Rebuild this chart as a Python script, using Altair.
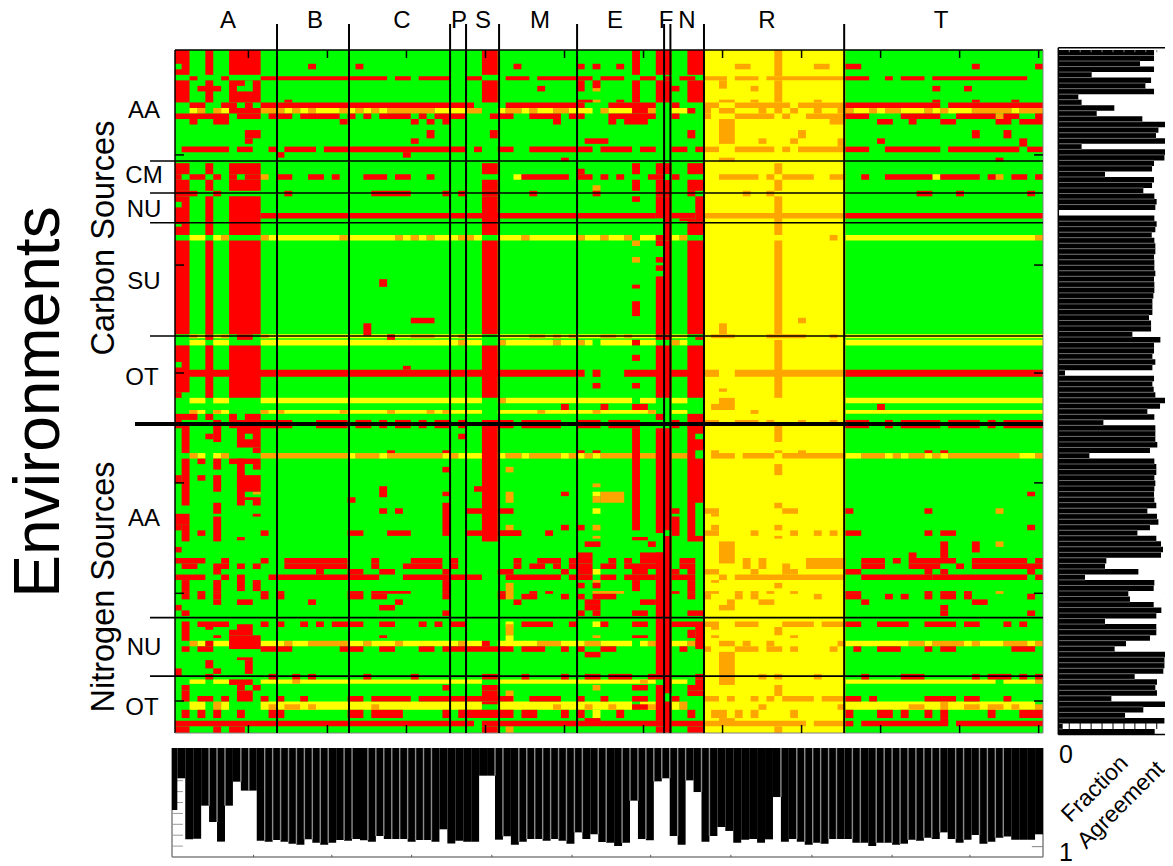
import altair as alt
import pandas as pd

# ---- heat map values: (first row, end row, columns)
YELLOW_BANDS = [
    (0.5, 125, "67-84"),
    (11, 12, "2 6 14 16 18-20 22 24 26 33-36 41 44 46-47 50-52 55-57 63-64 86-87 89 92-94 96 98-100 106"),
    (23, 24, "43 96"),
    (34, 35, "2-3 5 12-20 22-27 29 31 33-35 38 41-43 45-50 52-53 55-56 59-60 63 85-108"),
    (52, 52.7, "2-3 5-6 11-38 41-60 63-64 85-109"),
    (53, 54, "2-3 5-6 11-35 37-38 42-47 49-50 52 54-57 59-60 64 85-109"),
    (63.5, 64.5, "2-3 5-6 11-38 42-57 59-60 63-64 85-109"),
    (65.7, 66.4, "2-3 5-6 11-38 41-60 63-64 85-109"),
    (73.5, 74.5, "3 5 22 26 34 36-38 41 44 49 51 53 85-86 90 92 95 97 107-108"),
    (80.5, 81.3, "53"),
    (83.5, 84.5, "53"),
    (94.5, 95.5, "53"),
    (104, 105, "42 53"),
    (106.5, 109, "42"),
    (107.5, 108.5, "3 5-6 11-13 15-16 22-23 25-27 29-35 37-38 41-45 49-51 54-57 59 63-64 85-92 95 100 102-104 108"),
    (114.5, 115.3, "2-3 5-6 11-38 41-60 63-64 85-103 105-108"),
    (117.5, 118.5, "42"),
    (118.5, 120, "2-3 6 11-38 41-57 59-60 63 85-108"),
    (120, 121.5, "53"),
]
ORANGE_BANDS = [
    (0.5, 5.25, "76"), (6, 10, "76"), (3, 4, "71-72 81-82"),
    (5.25, 6, "67-69 71-73 75-84"), (6, 7.5, "69"), (7, 8, "53 73"),
    (9.5, 10, "53 69-70 73 81"), (10, 11, "67-68 71-77 79-84"),
    (11, 12, "3 5 11-13 15 17 21 23 25 27-32 37-38 42-43 45 48-49 54 59-60 67 69-70 74 76 78 81 84-85 88 90-91 95 97 101-105 107-109"),
    (12, 13, "67 71-75 77 80-84 104"), (13, 14, "83-84"), (13, 17.5, "69-70"),
    (15, 16.5, "79"), (16.5, 17.5, "74 78"), (16.5, 18, "84"),
    (18, 19, "67-68 71-75 77 79-84"), (20, 20.7, "69-70"),
    (21, 23, "76"), (24, 26, "76"), (23, 24, "11 69-73 75 77-80 83-84 104"),
    (25, 26, "53"), (26, 27, "72 75"), (27, 34, "76"), (30, 31, "67-84"),
    (34, 35, "6 11 21 28 30 32 36-37 44 51 54 57 64 83 109"),
    (35, 36, "58"), (38, 39, "58"), (35, 52, "76"), (49, 50, "79"), (50, 52, "69"),
    (52, 52.7, "2 6 11 30-32 36 45-46 48 50 54-55 57 68-70 75-79 83"),
    (53, 54, "36 41 48 51 63"), (53, 63.5, "76"), (58.4, 59.7, "67-68 71-84"),
    (61.8, 62.4, "69"), (63.5, 65, "69-70"), (63.5, 64.5, "41"), (64.6, 65.7, "68-70"),
    (65.7, 66.4, "2 5 11 13 21 27 32 34 46 53 60 73"),
    (67.5, 68.5, "67-68 71-73 75 79 83"),
    (68.5, 71.5, "76"), (73, 73.5, "68 76 79"),
    (73.5, 74.5, "2 6 11-21 23-25 27-33 35 42-43 45-48 50 52 54-57 59-60 63-64 68-70 72-75 77-84 87-89 91 93-94 96 98-106 109"),
    (75.5, 77.5, "76"), (76, 77, "42"), (79, 79.7, "53"), (80.5, 82.5, "42 54-56"),
    (81.3, 82.5, "53"), (80.5, 81, "10"), (82.5, 83.5, "76"),
    (83.5, 84.5, "67-68 77-78 104"), (84.5, 85, "68"),
    (86.5, 87.5, "42 53 68 76"), (87.5, 88.5, "67-68 73 78 81 83"), (88.5, 89, "53 76"),
    (89.5, 93.5, "69-70"), (89.5, 90.5, "104"), (92.5, 94.5, "72 74 80-84"),
    (93.5, 95.5, "77"), (94.5, 95.5, "67-68 73 78"), (95.5, 96.5, "69 71-84"),
    (96.5, 97, "53 68"), (97, 98, "76"), (97, 100, "42"),
    (98.5, 99, "53-56 67-68 71 73 75 78 104"), (99, 100, "67 71 73 81"),
    (100, 101, "70 74-75"), (101, 102, "69-70"),
    (104, 105, "67-68 71-73 77-80 82-84"), (104.5, 106.5, "42"), (105, 106.5, "76"),
    (104.5, 105.5, "68"), (106.5, 107, "53 68 78"),
    (107.5, 108.5, "2 14 17-21 24 28 36 46-48 52-53 60 65 69-70 72 75 84 93-94 96-99 101 105-107 109"),
    (108.5, 109.5, "67 71-73 75-76 78 83"), (109.5, 115.5, "69-70"), (113.5, 114.5, "74 76 81"),
    (114.5, 115.3, "15 59 109"), (115.5, 117.5, "76"), (115.5, 116.5, "53"), (116.5, 117.5, "42"),
    (117.5, 118.5, "67-68 70 73 75 77-80 82-84"), (118.5, 120, "5 64 97"),
    (119, 120, "12 14-15 17 25 48 52 55 60 74 84 93-94 100-101 103-104 106 109"),
    (120, 121.5, "68-69 71 73 78"), (121.5, 122.5, "69-70"),
    (122, 123, "67-79 81-84"), (123, 125, "42 76"),
]
RED_BANDS = [
    (0.5, 5, "0-1 4 7-10 39-40 58 61-62 65-66"),
    (6, 10, "0-1 4 7-10 39-40 58 61-62 65-66"),
    (3, 4, "17 23 43 51 53 56 85-86 101 109"),
    (5.25, 6, "2 6 11-26 28-29 31-34 37-38 42-44 46-50 51-52 54-56 59-60 62 64-65 85-87 90 92-94 96-107"),
    (6, 8, "51"), (6, 7.4, "53"), (7, 8, "3-5 46 63 96 100"),
    (9.5, 10, "14 51-52 56 96 101 106"),
    (10, 11, "2-3 6-7 9 11-37 42-51 55-60 63 85-96 98-109"),
    (11, 12, "7-10 58-59 65"),
    (12, 13, "0-6 8-10 12-14 16-20 22 24 26-29 31 33-36 40-42 45-48 50-51 55-60 63 85-87 92-96 99-103 105-106 109"),
    (13, 14, "2 5-6 21 30 32 34 48 55 57-59 89-90 93 97-98 104-105 107-109"),
    (15, 16.5, "9-10 32 40 65 101 105"), (16.5, 17.5, "9 30 52-54 89"), (16.5, 18, "107"),
    (18, 19, "1-6 8-9 12 14-17 19-36 38 41-42 45-52 54-57 59-60 63-64 66 85-87 90-96 98-106 108-109"),
    (19, 20, "13 29"), (20, 20.7, "49 104"),
    (21, 23, "0-1 4 7-10 39-40 58 61-62 65-66"), (22, 23, "51"),
    (23, 24, "0 2-3 5 7 9-10 13-14 17-18 20 24-26 28-29 32 44-49 51-52 54 56 60-61 63 87 90-95 97-101 103 106-107 109"),
    (24, 26, "0-1 4 7-10 39-40 58 61-62 65-66"),
    (26, 27, "0-2 5 14 25-29 34 36 39-40 45 53 61-62 65 94-95 99 108"),
    (27, 34, "0-1 4 7-10 39-40 62"), (27, 28, "58"), (27, 31, "61"), (27, 31.5, "66"),
    (30, 31, "11-60 63-65 85-109"), (31, 31.5, "64-65"), (31.5, 34, "65-66"),
    (34, 35, "61-62"), (35, 36, "61"),
    (35, 52, "0-1 4 7-10 39-40 62 65-66"), (38, 39, "61"), (39.5, 40.5, "61"), (41.5, 52, "61"),
    (43, 43.7, "58"), (46, 48.7, "58"), (42, 43.4, "26"), (49, 50, "30-32"), (50, 52.2, "24"),
    (52, 53, "4 8-9 27 61-62"), (52.5, 53, "66"), (53, 54, "58"),
    (54, 63.5, "4 7-10 39-40 61-62 65-66"), (54, 62.5, "0-1"), (62.5, 63.5, "0"),
    (55.7, 56.8, "58"), (57.7, 58.4, "29"),
    (58.4, 59.7, "0-51 53 57-65 85-109"), (60.8, 61.8, "53 58"),
    (64.6, 65.7, "49 54 58-59 89"),
    (66.4, 67.5, "0-2 4 7 9-10 61 65-66"),
    (67.5, 69, "0 5 7-14 18-21 23-24 26 28-29 31 33-34 36 39-42 44-48 51-53 55-58 63 65-66 85-87 90 92-96 98-101 103 105-109"),
    (68.5, 73.5, "1"), (70, 71, "4 36"), (68.5, 71.5, "5"), (68.5, 72.5, "8-10"), (72.5, 73.5, "10"),
    (73, 73.5, "27 34 51 53 95 97"),
    (68.5, 89.5, "39-40 65-66"), (69, 87.5, "58 62"), (69, 88, "61"),
    (74.5, 83, "1 8"), (74.5, 75.5, "3 7-10"), (74.5, 76.5, "5"), (75.5, 76.5, "10"),
    (76, 77, "34"), (77.5, 79, "0"), (77.5, 78.5, "3"), (77.5, 80.5, "5 8-10"),
    (79.5, 81.5, "26"), (79.5, 80.5, "38"), (80.5, 81.3, "34 49 108"), (81.5, 82.5, "22"),
    (81.5, 82, "9-10"), (82, 83, "10"), (82.5, 84.5, "5"), (82.5, 88.5, "34"),
    (83.5, 84.5, "26 28 37-38 41-42 63 85 95"), (84.5, 85, "10"), (85, 89.5, "5"),
    (85, 88.5, "63"), (84.5, 86.5, "0-1"), (86.5, 87.5, "0 49 51 108"), (86.5, 89.5, "1"),
    (87.5, 88.5, "3 11 22-23 27-29 37-38 41-43 47 85-86 95 97-98"),
    (88.7, 89.3, "8 58-59"),
    (88.5, 117, "62"), (89.5, 90.5, "52-53 60"), (89.5, 91.5, "101"), (89.5, 92.5, "97"), (90.5, 91.5, "0"),
    (91.5, 103.5, "61"), (91.5, 92.5, "51-52 59-61 93"),
    (92.5, 93.5, "0-3 6 11 14-21 25 30-33 35 43 46-48 50-52 55 57 59-61 64-65 87-89 91 93-98 101-107 109"),
    (93.5, 94.5, "1-2 5-6 8 10 14-21 25 29-33 35 43 45-46 48 50-52 54-55 57-61 64-65 87-89 93-96 99 101-109"),
    (94.5, 95.5, "5 18 22-23 26-27 34 41-42 49 51-52 58-59 63 65 85-86 95 97 108"),
    (95.5, 96.5, "0-3 6 8 12-25 29-38 42-48 50-52 54-55 57-60 63-65 87-95 96-107 109"),
    (96.5, 98.5, "1 5 8 10 34 58 65"), (97, 98, "51 53"),
    (98.5, 99, "1 3 5 11 13 22-23 25-29 34 41 45 47 63 65 85-86 95 97-98 100"),
    (99, 100, "1 3 5 11 13 22-23 25-26 34 41 44-45 49 51 53-55 65 85-86 90 92 95 97-98 100 108"),
    (100, 101, "5 8-9 17 28 43 52-53 59-60 87 101-102"),
    (101, 102, "0 26-27 52-53 97"),
    (102, 103, "1 34 51 53 58-59 65-66 97 108"),
    (103.5, 114.5, "61"),
    (104, 105, "3-6 11 13 16 18 20-23 26-27 31 33 35-36 44-47 50 54 58-59 63-66 85-86 89-92 95-98 100-101 105 107"),
    (104, 107.5, "1"), (104.5, 105.5, "4"), (104.5, 106.5, "8-9"), (105.5, 106.5, "7"),
    (106.5, 109, "7-10"), (106.5, 107, "5 26 58-59"), (104.5, 109, "66"), (105.5, 107, "65"),
    (107.5, 108.5, "4 39"),
    (108.5, 109.5, "1 3-4 11-14 21-23 26-27 31-32 34-42 44-46 49 51 54-55 64 86 89-91 95 97-98 106-108"),
    (109.5, 110.5, "52-53"), (110.5, 111, "8-9"), (111, 113.5, "9"), (111, 112.5, "4"),
    (112.5, 113.5, "5"), (112.5, 114, "0"),
    (113.5, 114.5, "4 12 15 17 24 30 39-40 44 49 52-53 55-57 60 66 87 92-94 101 103-105 107 109"),
    (114.5, 115.5, "7-9 66"),
    (115.5, 116.5, "1 8 10 34 39-40 58-59 65-66"), (116.5, 117.5, "1 8-9 39-40 65-66"),
    (115.5, 122, "61"),
    (117.5, 118.5, "1 3-4 6 8-9 11 13 16 22-23 25-29 31-36 37-42 45-48 51 54 58-59 63 85-86 88 95-98 100-101 105"),
    (118.5, 125, "62"), (118.5, 119, "39-40"), (119, 120, "58-59"),
    (120, 121.5, "1 3 5 8 12-13 22-23 25-28 34 36-42 44-45 49 51 56 65 85 89-90 92 95 97 103 107-109"),
    (121.5, 122.5, "52-53 97"),
    (122, 123, "0-37 39-66 85 87-97 99-109"),
    (123, 125, "0-1 5 7-8 39-40 61 65-66"),
]
GREEN_HOLES = [
    (3, 4, "0"), (6, 8, "9"), (7, 8, "8"), (23, 24, "62"), (28, 29, "0"), (32, 32.5, "0"),
    (57, 58, "0"), (70, 71, "9 66"), (73, 74.5, "66"), (75.5, 77, "9"), (82.5, 88.5, "66"),
]

# fractions along the two side histograms
RIGHT_FRACTION = [
    .875, .875, .747, .875, .305, .848, .796, .875, .183, .213, .512, .351, .768, .991, .915, .893,
    .991, .213, .991, .970, .875, .857, .427, .875, .857, .777, .878, .899, .887, 0, .878, .899,
    .887, .854, .878, .887, .887, .875, .878, .878, .887, .875, .878, .878, .869, .860, .860, .860,
    .829, .848, .848, .677, .933, .875, .875, .860, .887, .860, .061, .875, .860, .872, .887, .979,
    .930, .814, .878, .412, .887, .887, .887, .905, .838, .284, .878, .896, .896, .878, .887, .878,
    .875, .878, .896, .814, .902, .915, .838, .723, .896, .939, .957, .939, .439, .427, .732, .244,
    .878, .872, .640, .655, .872, .942, .896, .427, .896, .896, .838, .619, .515, .979, .970, .970,
    .960, .698, .902, .887, .902, .485, 1.0, .777, .610, .970, .04, .881,
]
BOTTOM_FRACTION = [
    .569, .278, .838, .832, .529, .679, .859, .529, .309, .391, .391, .85, .859, .844, .859, .878,
    .887, .838, .869, .887, .869, .844, .85, .835, .847, .859, .807, .835, .835, .835, .859, .844,
    .844, .859, .746, .875, .85, .859, .859, .254, .254, .841, .81, .887, .859, .835, .835, .85,
    .835, .85, .878, .774, .835, .792, .862,
    .869, .899, .869, .483, .835, .847, .306, .278, .807, .887, .297, .404, .859, .807, .725, .761,
    .869, .841, .835, .869, .838, .45, .859, .835, .859, .887, .869, .878, .835, .835, .835, .869,
    .869, .899, .869, .869, .887, .878, .841, .85, .823, .835, .774, .835, .869, .841, .798, .878,
    .859, .823, .813, .841, .841, .841, .792,
]
BOTTOM_SEPARATORS = [
    5, 6, 7, 9, 10, 12, 13, 14, 15, 16, 17, 18, 19, 20, 22, 23, 25, 26, 27, 28, 29, 30, 31, 32, 33,
    41, 42, 44, 45, 46, 47, 48, 49, 50, 51, 52, 54, 55, 57, 58, 59, 60, 61, 62, 63, 64, 65, 67, 68,
    77, 79, 80, 81, 82, 83, 84, 86, 87, 89, 90, 91, 92, 93, 94, 95, 96, 97, 99, 100, 102, 103, 104, 105,
]

GROUP_EDGES = [13.07, 22.18, 34.97, 36.99, 41.17, 51.04, 62.05, 62.85, 67.1, 84.84]
ROW_LINES = [20.6, 26.4, 31.8, 52.3, 103.3, 113.9]
THICK_LINE = 68.25
COL_TICKS = [9.45, 19.45, 29.45, 39.45, 49.45, 59.45, 69.45, 79.45, 89.45, 99.45, 109.45]
ROW_TICKS = [19.5, 39.45, 59, 78.9, 98.9, 118.4]
BOTTOM_TICKS = [10.6, 20.45, 30.5, 40.6, 50.7, 60.6, 70.7, 80.9, 91, 100.8]
FRACTION_TICKS = [.1, .2, .3, .4, .5, .6, .7, .8, .9]

COLUMN_GROUPS = [("A", 228), ("B", 315), ("C", 402), ("P", 459), ("S", 483), ("M", 540),
                 ("E", 615), ("F", 666), ("N", 687), ("R", 767), ("T", 941)]
ROW_GROUPS = [("AA", 144, 111), ("CM", 144, 176), ("NU", 144, 210), ("SU", 144, 282), ("OT", 142, 378),
              ("AA", 144, 519), ("NU", 144, 648), ("OT", 142, 708)]

FONT = "Liberation Sans"
ORIGIN_X = 8
ORIGIN_Y = 18
Xmin, Xmax, Ymin, Ymax = 0.16, 110, 0.5, 124.2


def xscale(domain, lo, hi, clamp=False):
    return alt.Scale(domain=domain, range=[lo - ORIGIN_X, hi - ORIGIN_X], nice=False, zero=False, clamp=clamp)


def yscale(domain, lo, hi, clamp=False):
    return alt.Scale(domain=domain, range=[lo - ORIGIN_Y, hi - ORIGIN_Y], nice=False, zero=False, clamp=clamp)


heat_x = xscale([Xmin, Xmax], 175, 1043)
heat_y = yscale([Ymin, Ymax], 50, 733)
heat_xc = xscale([Xmin, Xmax], 175, 1043, True)
heat_yc = yscale([Ymin, Ymax], 50, 733, True)
right_x = xscale([0, 1], 1058.3, 1167.7)
right_y = yscale([0, len(RIGHT_FRACTION)], 50, 734.5)
bot_x = xscale([0.33, 110], 172, 1043)
bot_xc = xscale([0.33, 110], 172, 1043, True)
bot_y = yscale([0, 1], 748, 857)


def expand(bands, state):
    out = []
    for r0, r1, cols in bands:
        for tok in cols.split():
            a, _, b = tok.partition("-")
            out.append({"state": state, "r0": r0, "r1": r1, "c0": int(a), "c1": int(b or a) + 1})
    return out


cells = ([{"state": "green", "r0": Ymin, "r1": 125, "c0": 0, "c1": 110}]
         + expand(YELLOW_BANDS, "yellow") + expand(ORANGE_BANDS, "orange")
         + expand(RED_BANDS, "red") + expand(GREEN_HOLES, "green"))
heat = alt.Chart(pd.DataFrame(cells)).mark_rect(strokeWidth=0).encode(
    x=alt.X("c0:Q", scale=heat_xc, axis=None), x2="c1:Q",
    y=alt.Y("r0:Q", scale=heat_yc, axis=None), y2="r1:Q",
    color=alt.Color("state:N", legend=None, scale=alt.Scale(
        domain=["green", "yellow", "orange", "red"],
        range=["#00ff00", "#ffff00", "#ffa500", "#ff0000"])),
)


def rules(rows, xs, ys, color="black", width=1.5):
    df = pd.DataFrame(rows, columns=["x0", "x1", "y0", "y1"])
    return alt.Chart(df).mark_rule(color=color, strokeWidth=width).encode(
        x=alt.X("x0:Q", scale=xs, axis=None), x2="x1:Q",
        y=alt.Y("y0:Q", scale=ys, axis=None), y2="y1:Q",
    )


def bars(rows, xs, ys):
    df = pd.DataFrame(rows, columns=["x0", "x1", "y0", "y1"])
    return alt.Chart(df).mark_rect(color="black", strokeWidth=0).encode(
        x=alt.X("x0:Q", scale=xs, axis=None), x2="x1:Q",
        y=alt.Y("y0:Q", scale=ys, axis=None), y2="y1:Q",
    )


def labels(rows, size, angle=0):
    df = pd.DataFrame(rows, columns=["t", "px", "py"])
    df["px"] -= ORIGIN_X
    df["py"] -= ORIGIN_Y
    return alt.Chart(df).mark_text(font=FONT, fontSize=size, angle=angle, align="center",
                                   baseline="middle", color="black").encode(
        x=alt.X("px:Q", scale=alt.Scale(domain=[0, 1157], range=[0, 1157]), axis=None),
        y=alt.Y("py:Q", scale=alt.Scale(domain=[-10, 848], range=[-10, 848]), axis=None),
        text="t:N",
    )


layers = [heat]
# heat frame
layers.append(rules([(Xmin, Xmax, Ymin, Ymin), (Xmin, Xmin, Ymin, Ymax)], heat_x, heat_y))
layers.append(rules([(Xmin, Xmax, Ymax, Ymax), (Xmax, Xmax, Ymin, Ymax)], heat_x, heat_y, "#808080", 1))
# heat ticks
ticks = [(c, c, Ymin, Ymin + 1.45) for c in COL_TICKS] + [(c, c, Ymax - 1.45, Ymax) for c in COL_TICKS]
ticks += [(Xmin, Xmin + 1.14, r, r) for r in ROW_TICKS] + [(Xmax - 1.14, Xmax, r, r) for r in ROW_TICKS]
layers.append(rules(ticks, heat_x, heat_y))
# group lines
layers.append(rules([(c, c, -4.2, Ymax) for c in GROUP_EDGES], heat_x, heat_y, width=2))
layers.append(rules([(-3.0, Xmax, r, r) for r in ROW_LINES], heat_x, heat_y, width=1.6))
layers.append(rules([(-4.9, Xmax, THICK_LINE, THICK_LINE)], heat_x, heat_y, width=4))

# right histogram
n = len(RIGHT_FRACTION)
layers.append(bars([(0, v, k, k + 1) for k, v in enumerate(RIGHT_FRACTION)], right_x, right_y))
layers.append(rules([(0, min(RIGHT_FRACTION[k - 1], RIGHT_FRACTION[k]), k, k) for k in range(1, n)],
                    right_x, right_y, "#707070", 0.9))
layers.append(rules([(0, 0, -0.4, n), (1, 1, -0.4, n), (0, 1, -0.4, -0.4), (0, 1, n, n)], right_x, right_y))
layers.append(rules([(f, f, n - 2.4, n - 1) for f in FRACTION_TICKS], right_x, right_y, "black", 1))
layers.append(rules([(f, f, 0, 0.4) for f in FRACTION_TICKS], right_x, right_y, "#808080", 1))
layers.append(rules([(0.975, 1, r, r) for r in [38.2, 58.5, 78.6, 98.3]], right_x, right_y, "black", 1))

# bottom histogram
m = len(BOTTOM_FRACTION)
layers.append(rules([(0.33, 0.33, 0, 1), (110, 110, 0, 1), (0.33, 110, 1, 1)], bot_x, bot_y, "#808080", 1.5))
layers.append(rules([(0.33, 1.7, f, f) for f in FRACTION_TICKS], bot_x, bot_y, "#999999", 1))
layers.append(rules([(108.6, 110, 0.905, 0.905)], bot_x, bot_y, "#808080", 1))
layers.append(rules([(c, c, 0.98, 1) for c in BOTTOM_TICKS], bot_x, bot_y, "#555555", 1))
layers.append(bars([(k, k + 1, 0, v) for k, v in enumerate(BOTTOM_FRACTION)], bot_xc, bot_y))
layers.append(rules([(k, k, 0, min(BOTTOM_FRACTION[k - 1], BOTTOM_FRACTION[k])) for k in BOTTOM_SEPARATORS],
                    bot_x, bot_y, "#8a8a8a", 1.4))

# text
layers.append(labels([(t, x, 21) for t, x in COLUMN_GROUPS], 24))
layers.append(labels(ROW_GROUPS, 24))
layers.append(labels([("Carbon Sources", 104, 238), ("Nitrogen Sources", 104, 587)], 32.5, 270))
layers.append(labels([("Environments", 40, 402)], 64, 270))
layers.append(labels([("0", 1066, 755), ("1", 1066, 853)], 25))
layers.append(labels([("Fraction", 1095, 789), ("Agreement", 1121, 805)], 23, 315))

chart = (
    alt.layer(*layers)
    .resolve_scale(x="independent", y="independent")
    .properties(width=1157, height=848, padding={"left": 0, "top": 10, "right": 0, "bottom": 0},
                autosize=alt.AutoSizeParams(type="none"))
    .configure_view(stroke=None)
)
chart.save("out.html", embed_options={"renderer": "svg", "actions": False})
